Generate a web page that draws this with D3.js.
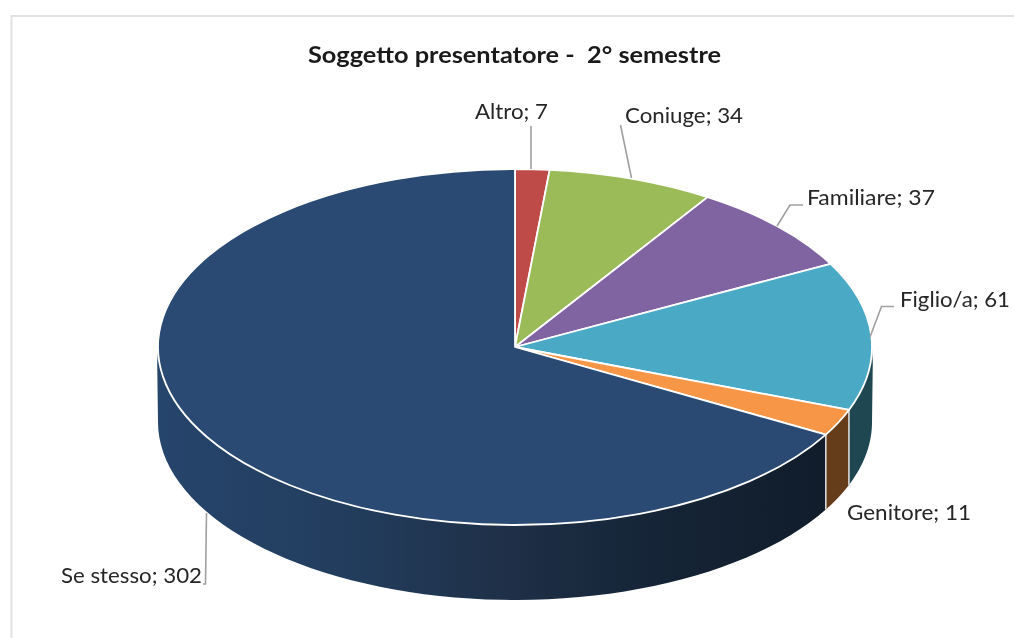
<!DOCTYPE html>
<html><head><meta charset="utf-8">
<script src="https://cdnjs.cloudflare.com/ajax/libs/d3/7.8.5/d3.min.js"></script>
<style>
html,body{margin:0;padding:0;background:#fff;overflow:hidden}
svg{display:block;filter:blur(0.6px)}
text{font-family:Lato,"Open Sans",sans-serif;fill:#262626}
</style></head><body>
<script>
const titleText = "Soggetto presentatore -  2° semestre";
const categories = ["Altro","Coniuge","Familiare","Figlio/a","Genitore","Se stesso"];
const values = [7,34,37,61,11,302];
const topColors = ["#be4b48","#9bbb59","#8064a2","#4aa9c4","#f79646","#2a4a73"];
const wallColors = ["#6e2c2a","#5a6d34","#4a3a5e","#1f4751","#663d1b","url(#wallGrad)"];

const W = 1014, H = 638;
const svg = d3.select("body").append("svg").attr("width",W).attr("height",H);

svg.append("rect").attr("x",11.5).attr("y",16).attr("width",W+50).attr("height",H+50)
  .attr("fill","#fff").attr("stroke","#e2e2e2").attr("stroke-width",2);

svg.append("text").attr("x",308).attr("y",62.5).attr("font-size",23).attr("font-weight",700)
  .style("fill","#1a1a1a").style("white-space","pre")
  .attr("textLength",413).attr("lengthAdjust","spacingAndGlyphs").text(titleText);

// Projection of the unit circle on to the tilted pie
const px = d3.scaleLinear().domain([-1,1]).range([158,872]);
const py = d3.scaleLinear().domain([-1,1]).range([169,525]);
const depth = 75, shoulder = 16;

const pie = d3.pie().value(d=>d).sort(null);
const arcs = pie(values);
const cx = px(0), cy = py(0), Rx = px(1)-cx, Ry = py(1)-cy;

const grad = svg.append("defs").append("linearGradient").attr("id","wallGrad")
  .attr("gradientUnits","userSpaceOnUse").attr("x1",157).attr("x2",826).attr("y1",0).attr("y2",0);
[[0,"#26456c"],[0.3,"#223c5c"],[0.5,"#1f3149"],[0.75,"#152436"],[1,"#111d2b"]]
  .forEach(s=>grad.append("stop").attr("offset",s[0]).attr("stop-color",s[1]));

const HALF = Math.PI/2, THREE = 3*Math.PI/2;
const line = d3.line();
function wallPath(a){
  const a0 = Math.max(a.startAngle,HALF), a1 = Math.min(a.endAngle,THREE);
  if(a1<=a0) return null;
  const angs = d3.range(0,61).map(i=>a0+(a1-a0)*i/60);
  const bottom = angs.map(t=>[px(Math.sin(t)),py(-Math.cos(t))+depth]);
  const top = [];
  if(a1>=THREE) top.push([px(-1)-0.8,cy+shoulder]);
  angs.slice().reverse().forEach(t=>top.push([px(Math.sin(t)),py(-Math.cos(t))]));
  if(a0<=HALF) top.push([px(1)+0.8,cy+shoulder]);
  return line(bottom.concat(top))+"Z";
}

svg.append("g").selectAll("path").data(arcs).join("path")
  .attr("d",wallPath).attr("fill",(d,i)=>wallColors[i]);

// Wall dividers at the slice boundaries facing the viewer
const seams = arcs.map(a=>a.startAngle).filter(t=>t>HALF && t<THREE);
svg.append("g").selectAll("line").data(seams).join("line")
  .attr("x1",t=>px(Math.sin(t))).attr("x2",t=>px(Math.sin(t)))
  .attr("y1",t=>py(-Math.cos(t))).attr("y2",t=>py(-Math.cos(t))+depth)
  .attr("stroke","#d9d9d9").attr("stroke-width",1.6);

// Top face: circular arcs squashed into the ellipse
const arcGen = d3.arc().innerRadius(0).outerRadius(Rx);
svg.append("g").attr("transform",`translate(${cx},${cy}) scale(1,${Ry/Rx})`)
  .selectAll("path").data(arcs).join("path")
  .attr("d",arcGen).attr("fill",(d,i)=>topColors[i])
  .attr("stroke","#fff").attr("stroke-width",1.8)
  .attr("vector-effect","non-scaling-stroke").attr("stroke-linejoin","round");

// Leader lines
const leaders = [
  [[531,126],[531,169]],
  [[620.5,125],[631.5,178]],
  [[803,205],[790,205],[777,226]],
  [[894,306.5],[881.5,306.5],[870,337]],
  [[206.5,513],[205.5,584],[203,584]]
];
svg.append("g").selectAll("path").data(leaders).join("path")
  .attr("d",d=>line(d)).attr("fill","none").attr("stroke","#a0a0a0").attr("stroke-width",1.6);

// Data labels
const labelBoxes = [
  {x:475,y:119,w:73},{x:625,y:123,w:118},{x:807,y:205,w:128},
  {x:900,y:307,w:110},{x:847,y:520,w:124},{x:61,y:583,w:141}
];
svg.append("g").selectAll("text").data(arcs).join("text")
  .attr("x",(d,i)=>labelBoxes[i].x).attr("y",(d,i)=>labelBoxes[i].y)
  .attr("font-size",22)
  .attr("textLength",(d,i)=>labelBoxes[i].w).attr("lengthAdjust","spacingAndGlyphs")
  .text((d,i)=>`${categories[i]}; ${d.value}`);
</script>
</body></html>
